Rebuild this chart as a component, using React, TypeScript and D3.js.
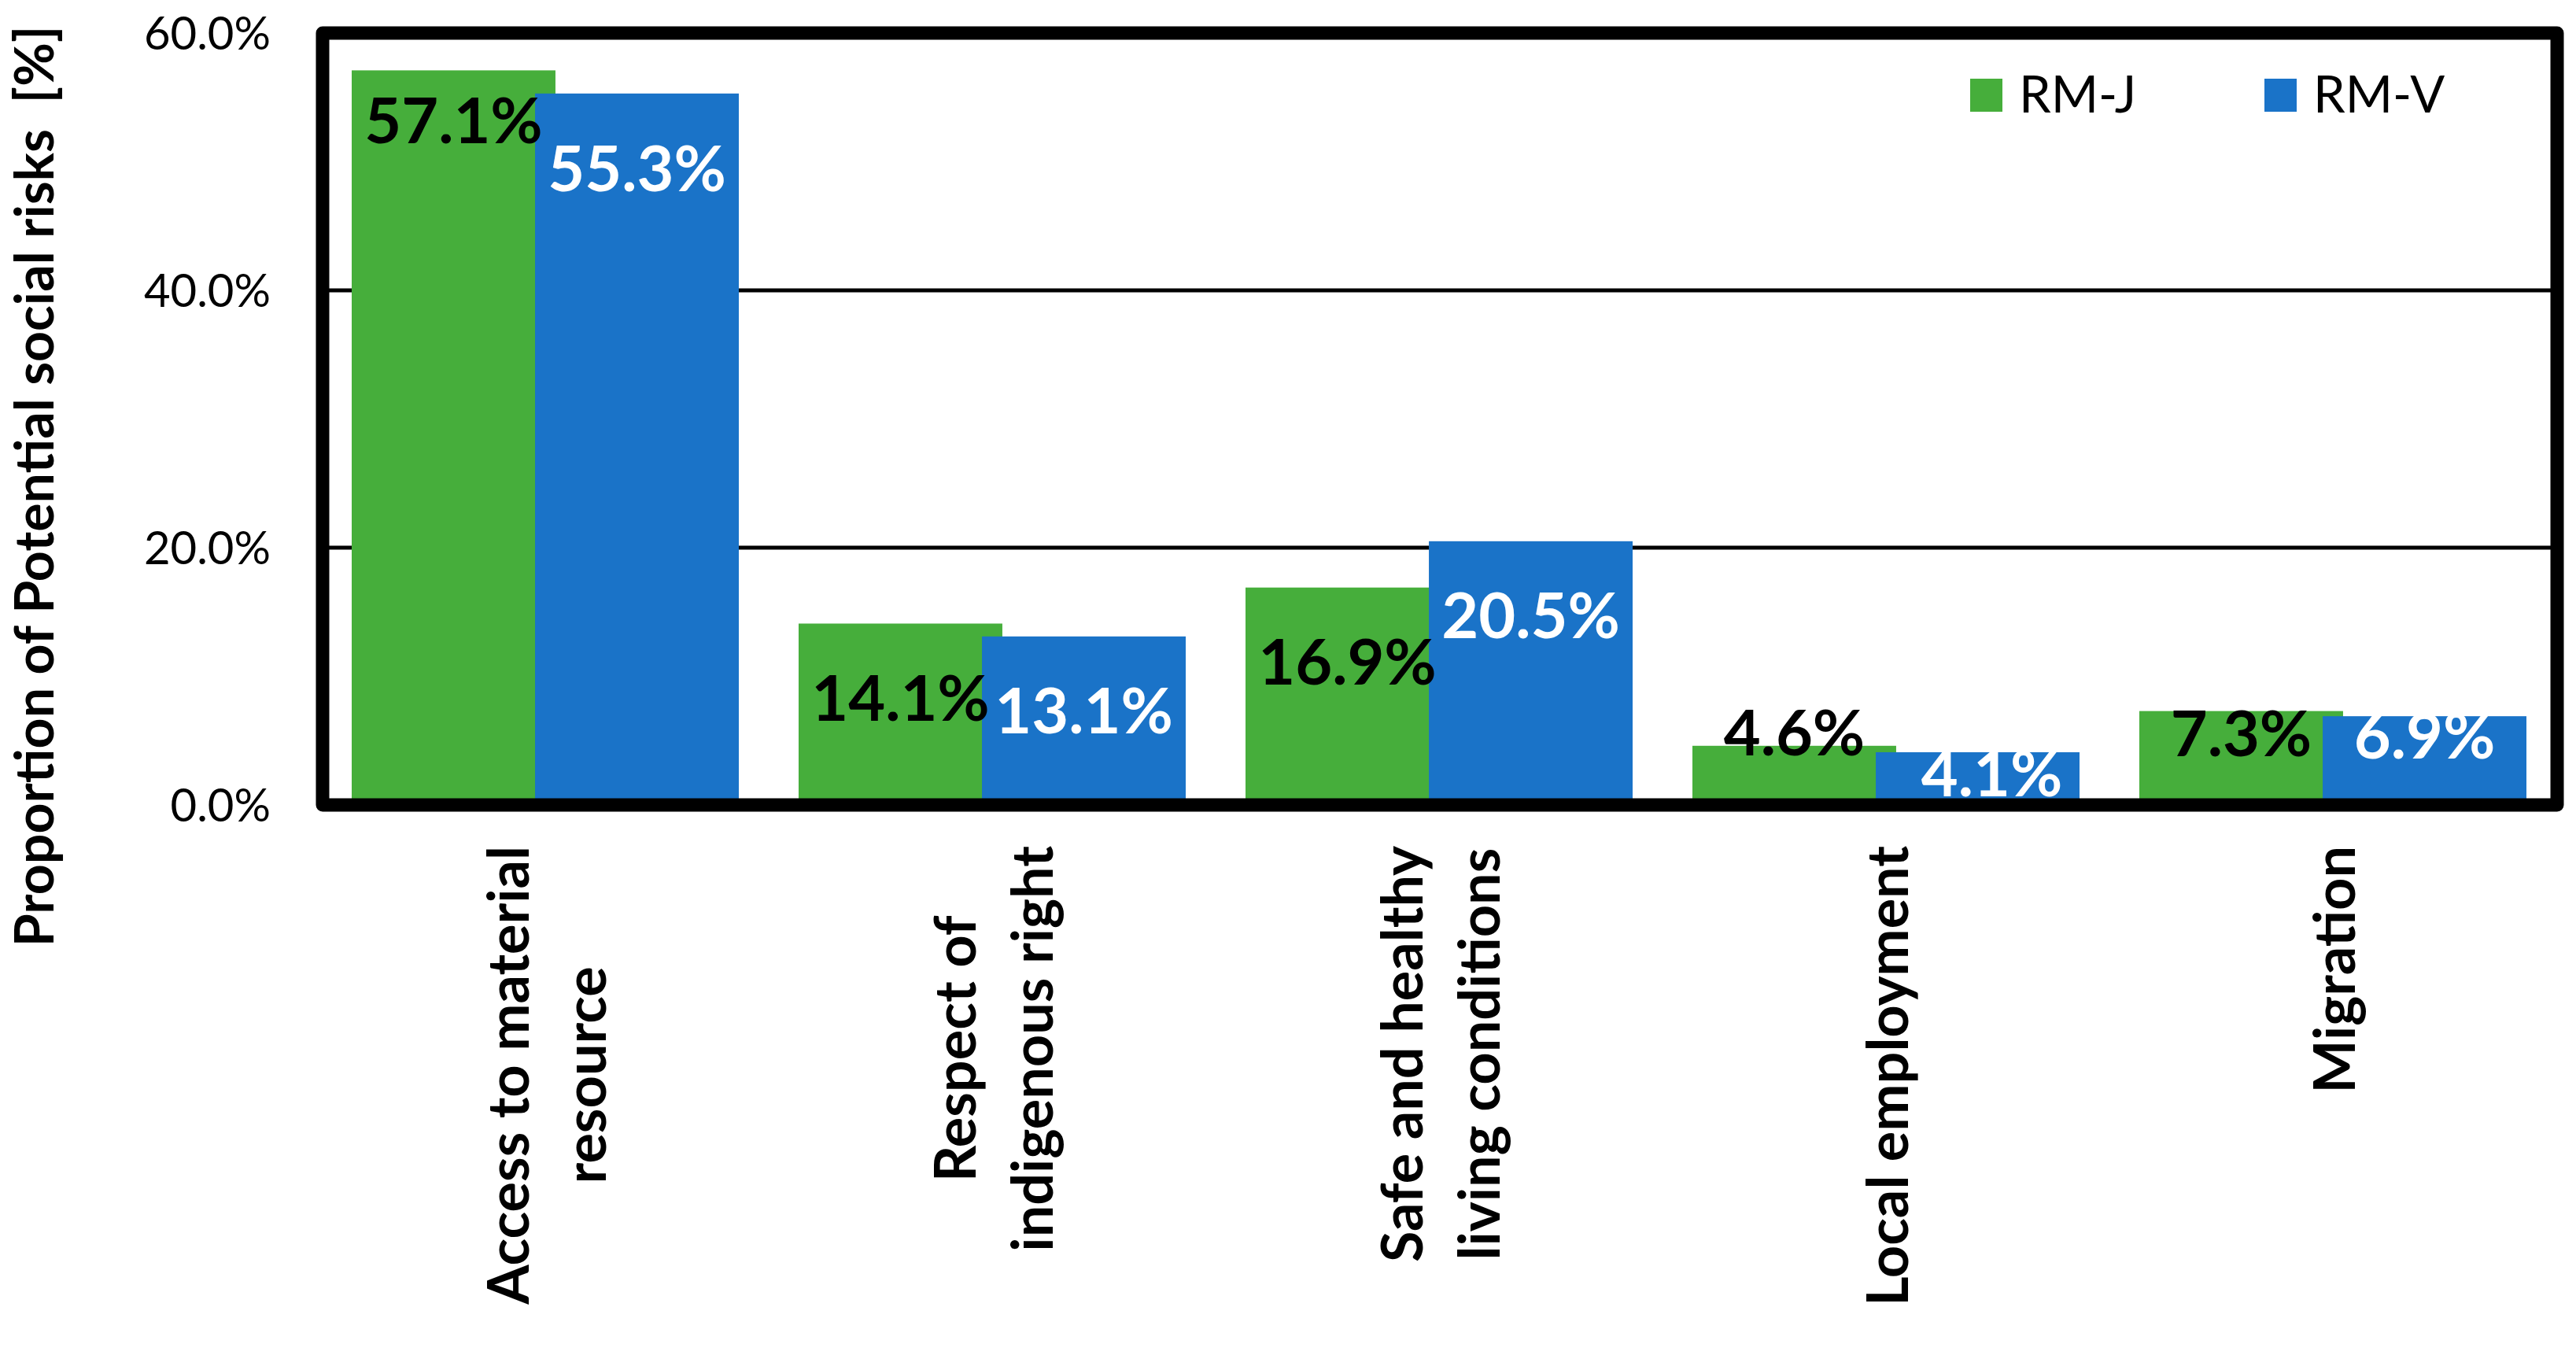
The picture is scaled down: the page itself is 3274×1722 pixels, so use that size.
import React, { useEffect, useRef } from "react";
import * as d3 from "d3";

const categories: string[][] = [
  ["Access to material", "resource"],
  ["Respect of", "indigenous right"],
  ["Safe and healthy", "living conditions"],
  ["Local employment"],
  ["Migration"],
];
const seriesNames = ["RM-J", "RM-V"];
const valuesJ = [57.1, 14.1, 16.9, 4.6, 7.3];
const valuesV = [55.3, 13.1, 20.5, 4.1, 6.9];
const yTicks = [0, 20, 40, 60];
const yTitle = "Proportion of Potential social risks\u00A0\u00A0[%]";

// layout (label centre offsets from bar top, px)
const LABEL_DY = [
  [65, 96, 95, -16, 29],
  [96, 95, 95, 28, 26],
];
const LABEL_DX = [
  [0, 0, 0, 0, 0],
  [0, 0, 0, 18, 0],
];

const W = 3274;
const H = 1722;
const COLORS = ["#46AE3B", "#1A73C8"];
const FONT = "Lato, 'Open Sans', sans-serif";

export default function App() {
  const ref = useRef<SVGSVGElement | null>(null);

  useEffect(() => {
    const svg = d3.select(ref.current);
    svg.selectAll("*").remove();

    const x0 = 410, x1 = 3250, yTop = 42, yBot = 1023;
    const x = d3.scaleBand<number>().domain(d3.range(categories.length)).range([x0, x1]).paddingInner(0).paddingOuter(0);
    const y = d3.scaleLinear().domain([0, 60]).range([yBot, yTop]);

    const band = x.bandwidth();
    const groupW = band * (492 / 568);
    const barW = groupW / 1.9;
    const gapL = (band - groupW) / 2 - 1;
    const barX = (i: number, s: number) => (x(i) as number) + gapL + s * barW * 0.9;

    // gridlines
    svg.append("g").selectAll("line").data([20, 40]).join("line")
      .attr("x1", x0).attr("x2", x1)
      .attr("y1", (d) => y(d)).attr("y2", (d) => y(d))
      .attr("stroke", "#000").attr("stroke-width", 5);

    // bars
    const series = [valuesJ, valuesV];
    series.forEach((vals, s) => {
      svg.append("g").selectAll("rect").data(vals).join("rect")
        .attr("x", (_d, i) => barX(i, s))
        .attr("width", barW)
        .attr("y", (d) => y(d))
        .attr("height", (d) => y(0) - y(d))
        .attr("fill", COLORS[s]);
    });

    // frame
    svg.append("rect")
      .attr("x", x0).attr("y", yTop).attr("width", x1 - x0).attr("height", yBot - yTop)
      .attr("fill", "none").attr("stroke", "#000").attr("stroke-width", 17)
      .attr("stroke-linejoin", "round");

    // data labels
    series.forEach((vals, s) => {
      svg.append("g").selectAll("text").data(vals).join("text")
        .attr("x", (_d, i) => barX(i, s) + barW / 2 + LABEL_DX[s][i])
        .attr("y", (d, i) => y(d) + LABEL_DY[s][i] + 28)
        .attr("text-anchor", "middle")
        .attr("font-family", FONT).attr("font-weight", 700).attr("font-size", 81)
        .attr("fill", s === 0 ? "#000" : "#fff")
        .text((d) => d.toFixed(1) + "%");
    });

    // y tick labels
    svg.append("g").selectAll("text").data(yTicks).join("text")
      .attr("x", 344).attr("y", (d) => y(d) + 21)
      .attr("text-anchor", "end")
      .attr("font-family", FONT).attr("font-size", 58).attr("fill", "#000")
      .text((d) => d.toFixed(1) + "%");

    // y title
    svg.append("text")
      .attr("transform", "translate(68,618) rotate(-90)")
      .attr("text-anchor", "middle")
      .attr("font-family", FONT).attr("font-weight", 700).attr("font-size", 68)
      .attr("fill", "#000")
      .text(yTitle);

    // category labels
    const L = 98;
    categories.forEach((lines, i) => {
      const cx = (x(i) as number) + band / 2;
      const g = svg.append("g");
      const texts = lines.map((ln, k) =>
        g.append("text")
          .attr("x", 0)
          .attr("y", -lines.length * L / 2 + k * L + 76)
          .attr("text-anchor", "middle")
          .attr("font-family", FONT).attr("font-weight", 700).attr("font-size", 72)
          .attr("fill", "#000")
          .text(ln)
      );
      let maxLen = 0;
      texts.forEach((t) => {
        const n = t.node() as SVGTextElement;
        maxLen = Math.max(maxLen, n.getComputedTextLength());
      });
      g.attr("transform", `translate(${cx},${1075 + maxLen / 2}) rotate(-90)`);
    });

    // legend
    const legX = [2504, 2878];
    seriesNames.forEach((name, s) => {
      svg.append("rect").attr("x", legX[s]).attr("y", 100).attr("width", 41).attr("height", 42).attr("fill", COLORS[s]);
      svg.append("text").attr("x", legX[s] + 62).attr("y", 143)
        .attr("font-family", FONT).attr("font-size", 65).attr("fill", "#000").text(name);
    });
  }, []);

  return (
    <svg
      ref={ref}
      width={W}
      height={H}
      viewBox={`0 0 ${W} ${H}`}
      style={{ position: "absolute", left: 0, top: 0, background: "#fff" }}
    />
  );
}
